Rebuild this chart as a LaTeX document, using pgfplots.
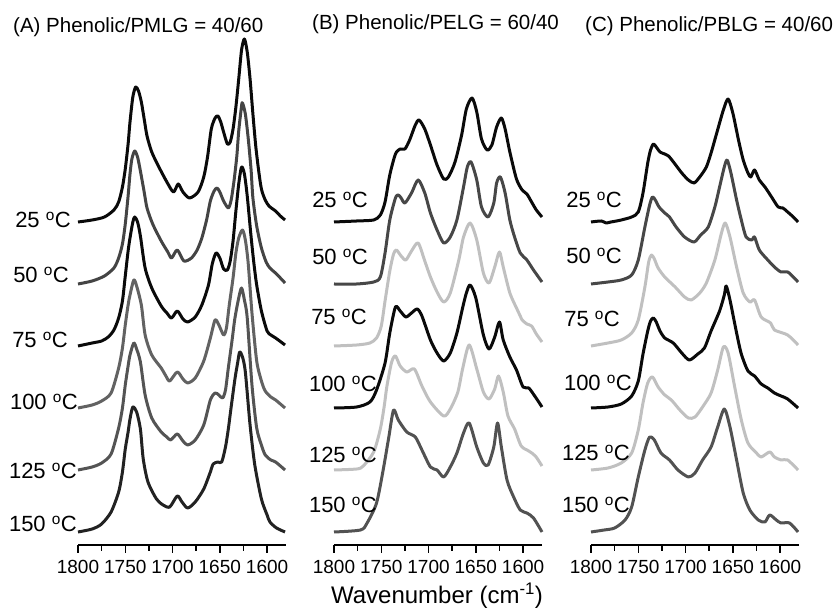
\documentclass[border=0pt]{standalone}
\usepackage{fontspec}
\setmainfont{Liberation Sans}
\usepackage{pgfplots}
\pgfplotsset{compat=1.18}
\definecolor{kA}{HTML}{0A0A0A}
\definecolor{dgA}{HTML}{444444}
\definecolor{mgA}{HTML}{626262}
\definecolor{g5A}{HTML}{545454}
\definecolor{nkA}{HTML}{222222}
\definecolor{lg}{HTML}{C0C0C0}
\definecolor{dg}{HTML}{474747}
\definecolor{dg5}{HTML}{525252}
\pgfplotsset{
 panel/.style={
  scale only axis, width=208pt, height=510pt, anchor=south west,
  xmin=1580, xmax=1800, x dir=reverse, ymin=0, ymax=510,
  axis x line=bottom, axis y line=none, axis line style={-, line width=1.5pt},
  xtick={1800,1750,...,1600}, minor xtick={1775,1725,1675,1625},
  tick align=outside, major tick length=8pt, minor tick length=6pt,
  every tick/.style={line width=1.5pt, black},
  xticklabel style={font=\fontsize{19}{19}\selectfont, yshift=-4pt},
  /pgf/number format/1000 sep={}, /pgf/number format/assume math mode=true,
  clip=false,
  every axis plot/.append style={line width=3pt, smooth, tension=0.45, line join=round, no marks},
 },
}
\newcommand{\lab}[1]{\fontsize{22}{22}\selectfont #1 \textsuperscript{o}C}
\begin{document}
\begin{tikzpicture}[x=1pt,y=1pt]
\path[use as bounding box] (0,0) rectangle (836,612);
% ---------------- Panel A ----------------
\begin{axis}[panel, at={(78pt,67pt)}]
\addplot[kA] table[x index=0, y expr=\thisrowno{1}+323] {
1800 0
1785 2
1772 5
1762 12
1757 20
1753 35
1750 53
1747 78
1745 100
1742 125
1739 135
1736 131
1733 120
1730 103
1727 86
1722 70
1715 56
1706 40
1699 30
1694 38
1689 30
1682 24
1673 30
1667 45
1663 65
1659 93
1655 104
1652 106
1649 100
1646 90
1642 78
1639 80
1636 93
1633 115
1630 143
1627 172
1624 183
1621 170
1618 143
1615 108
1612 76
1609 52
1606 33
1602 22
1598 16
1594 13
1591 11
1586 6
1581 2
};
\addplot[dgA] table[x index=0, y expr=\thisrowno{1}+261] {
1800 0
1785 3
1772 8
1762 16
1757 26
1753 40
1750 60
1747 88
1745 110
1743 125
1740 133
1737 127
1734 113
1730 92
1727 76
1721 60
1712 43
1705 32
1701 26
1695 34
1688 23
1680 26
1674 34
1669 46
1664 64
1660 83
1656 93
1653 96
1650 92
1646 83
1641 76
1638 84
1635 103
1632 128
1630 153
1627 178
1626 181
1623 170
1620 146
1617 115
1615 86
1611 58
1606 36
1601 22
1597 16
1590 10
1581 1
};
\addplot[kA] table[x index=0, y expr=\thisrowno{1}+199] {
1800 0
1785 3
1775 5
1768 9
1762 16
1757 28
1753 45
1750 70
1747 95
1745 108
1742 124
1740 129
1737 124
1734 110
1729 78
1722 58
1712 40
1706 33
1701 28
1695 35
1689 27
1684 24
1676 29
1669 41
1662 61
1658 82
1654 93
1650 88
1646 77
1642 76
1639 85
1636 105
1633 135
1630 162
1627 179
1624 172
1621 150
1617 110
1614 83
1611 61
1606 35
1600 15
1596 11
1591 8
1581 1
};
\addplot[mgA] table[x index=0, y expr=\thisrowno{1}+137] {
1800 0
1785 3
1775 7
1765 15
1757 40
1753 60
1750 83
1747 103
1745 113
1741 128
1738 122
1733 103
1729 73
1722 53
1712 40
1707 32
1703 27
1695 36
1689 29
1684 25
1676 30
1667 47
1660 70
1655 88
1651 83
1646 73
1643 80
1640 103
1636 130
1633 155
1630 170
1626 178
1623 168
1620 145
1616 95
1611 47
1606 27
1602 17
1596 11
1591 8
1581 0
};
\addplot[g5A] table[x index=0, y expr=\thisrowno{1}+75] {
1800 0
1785 3
1775 7
1765 16
1757 42
1753 62
1750 85
1747 104
1745 115
1741 127
1738 121
1734 108
1729 75
1722 52
1712 38
1706 33
1702 30
1695 36
1689 29
1684 25
1676 30
1667 45
1660 70
1655 77
1651 75
1647 72
1644 80
1641 102
1637 130
1634 152
1630 172
1627 182
1624 170
1621 152
1616 85
1611 42
1606 25
1602 15
1596 10
1591 8
1581 0
};
\addplot[nkA] table[x index=0, y expr=\thisrowno{1}+13] {
1800 0
1785 3
1775 8
1765 20
1757 40
1753 60
1750 83
1747 100
1745 113
1742 125
1738 120
1734 103
1731 73
1726 50
1717 33
1710 27
1703 25
1695 36
1690 30
1684 24
1676 30
1667 43
1660 60
1657 68
1652 70
1648 70
1644 85
1641 103
1638 125
1634 153
1631 170
1629 180
1626 175
1623 160
1618 107
1613 67
1606 33
1600 17
1597 10
1590 4
1581 0
};
\end{axis}
% ---------------- Panel B ----------------
\begin{axis}[panel, at={(334pt,67pt)}]
\addplot[kA] table[x index=0, y expr=\thisrowno{1}+323] {
1800 0
1776 1
1758 2
1751 7
1746 20
1741 47
1735 68
1730 73
1725 73
1720 82
1714 97
1710 102
1704 93
1698 77
1691 57
1684 43
1679 45
1672 60
1665 87
1660 113
1654 124
1649 110
1644 83
1638 72
1633 77
1628 95
1623 104
1619 93
1614 70
1607 43
1601 32
1596 28
1591 20
1586 12
1580 5
};
\addplot[dg] table[x index=0, y expr=\thisrowno{1}+261] {
1800 0
1776 0
1758 2
1751 7
1746 31
1741 64
1735 86
1732 89
1729 86
1725 81
1718 91
1711 104
1704 91
1698 71
1691 54
1684 41
1677 47
1670 64
1663 97
1659 117
1655 122
1649 104
1644 77
1637 67
1631 81
1628 101
1624 107
1619 91
1614 64
1609 47
1603 31
1596 24
1589 14
1580 2
};
\addplot[lg] table[x index=0, y expr=\thisrowno{1}+199] {
1800 0
1776 1
1762 3
1755 8
1750 20
1746 45
1741 75
1737 92
1734 96
1729 90
1724 86
1718 95
1711 103
1704 85
1698 69
1691 54
1684 44
1677 53
1668 86
1663 109
1656 123
1649 106
1642 73
1636 63
1630 79
1625 94
1621 79
1614 53
1607 38
1603 30
1601 26
1596 22
1591 20
1586 12
1580 4
};
\addplot[kA] table[x index=0, y expr=\thisrowno{1}+137] {
1800 0
1776 1
1762 6
1755 18
1746 45
1741 75
1735 101
1730 97
1724 91
1718 95
1712 99
1707 92
1698 68
1691 55
1684 47
1677 55
1670 75
1664 100
1660 115
1656 123
1650 110
1642 73
1636 59
1630 71
1625 86
1621 68
1614 51
1607 38
1600 21
1594 20
1587 11
1580 1
};
\addplot[lg] table[x index=0, y expr=\thisrowno{1}+75] {
1800 0
1776 1
1769 4
1758 18
1751 41
1747 63
1744 84
1739 108
1735 114
1730 104
1723 98
1715 101
1707 84
1698 68
1684 54
1677 61
1669 78
1664 101
1657 125
1649 101
1642 78
1636 71
1630 81
1626 94
1621 78
1616 54
1609 41
1602 24
1594 19
1587 14
1580 4
};
\addplot[dg5] table[x index=0, y expr=\thisrowno{1}+13] {
1800 0
1772 2
1765 9
1755 29
1748 62
1742 95
1737 122
1732 112
1723 100
1714 95
1707 82
1698 65
1691 62
1684 55
1677 65
1670 79
1663 99
1657 109
1649 85
1642 69
1637 67
1631 85
1627 109
1623 85
1617 52
1610 35
1603 22
1596 19
1589 14
1580 0
};
\end{axis}
% ---------------- Panel C ----------------
\begin{axis}[panel, at={(591pt,67pt)}]
\addplot[kA] table[x index=0, y expr=\thisrowno{1}+323] {
1800 0
1789 1
1784 -1
1779 0
1773 1
1768 2
1757 5
1750 10
1745 29
1740 59
1737 72
1734 78
1731 75
1727 70
1722 68
1718 66
1712 59
1704 49
1697 42
1691 39
1685 45
1678 55
1673 69
1667 89
1660 112
1655 123
1650 109
1644 82
1639 62
1634 49
1631 45
1627 52
1622 42
1616 35
1609 25
1602 15
1597 14
1592 10
1586 5
1581 0
};
\addplot[dg] table[x index=0, y expr=\thisrowno{1}+261] {
1800 0
1782 2
1768 4
1757 9
1750 24
1743 57
1738 79
1735 87
1732 84
1728 77
1722 71
1717 67
1710 57
1701 47
1691 42
1684 49
1676 57
1669 77
1664 97
1659 117
1656 124
1652 111
1646 84
1641 64
1636 47
1630 44
1627 47
1622 34
1613 24
1606 17
1599 12
1592 12
1586 7
1581 2
};
\addplot[lg] table[x index=0, y expr=\thisrowno{1}+199] {
1800 0
1782 3
1768 6
1757 13
1750 26
1743 59
1739 84
1736 91
1733 87
1729 78
1722 69
1711 59
1701 49
1694 46
1685 53
1678 63
1669 86
1662 113
1658 123
1653 109
1646 79
1639 53
1632 44
1627 46
1620 29
1610 23
1606 16
1592 11
1581 1
};
\addplot[kA] table[x index=0, y expr=\thisrowno{1}+137] {
1800 0
1782 1
1768 4
1757 12
1750 27
1745 54
1740 77
1737 87
1734 90
1731 86
1727 77
1722 70
1713 65
1704 55
1696 48
1687 54
1680 60
1673 77
1664 97
1659 113
1657 122
1653 108
1646 75
1641 54
1634 37
1627 32
1620 24
1613 20
1606 15
1599 12
1592 9
1581 0
};
\addplot[lg] table[x index=0, y expr=\thisrowno{1}+75] {
1800 0
1782 2
1768 7
1757 17
1750 40
1745 67
1740 87
1735 93
1729 83
1722 75
1715 70
1706 60
1697 52
1690 53
1682 63
1673 77
1666 100
1660 123
1655 117
1648 83
1641 50
1634 27
1625 17
1620 13
1611 18
1606 13
1599 10
1592 10
1581 0
};
\addplot[dg5] table[x index=0, y expr=\thisrowno{1}+13] {
1800 0
1786 2
1775 4
1764 12
1757 25
1750 55
1743 82
1738 95
1733 92
1726 79
1717 72
1708 62
1697 55
1690 59
1682 72
1673 85
1666 105
1659 123
1653 105
1646 72
1639 39
1632 22
1623 12
1616 10
1611 17
1604 12
1599 9
1590 9
1581 0
};
\end{axis}
% ---------------- Texts ----------------
\node[anchor=west, font=\fontsize{20.5}{20.5}\selectfont, inner sep=0pt] at (13,585) {(A) Phenolic/PMLG = 40/60};
\node[anchor=west, font=\fontsize{20.5}{20.5}\selectfont, inner sep=0pt] at (312,588) {(B) Phenolic/PELG = 60/40};
\node[anchor=west, font=\fontsize{20.5}{20.5}\selectfont, inner sep=0pt] at (585,586) {(C) Phenolic/PBLG = 40/60};
% Panel A labels
\node[anchor=east, inner sep=0pt] at (71,392) {\lab{25}};
\node[anchor=east, inner sep=0pt] at (69,337) {\lab{50}};
\node[anchor=east, inner sep=0pt] at (68,272) {\lab{75}};
\node[anchor=east, inner sep=0pt] at (78,210) {\lab{100}};
\node[anchor=east, inner sep=0pt] at (77,141) {\lab{125}};
\node[anchor=east, inner sep=0pt] at (77,88) {\lab{150}};
% Panel B labels
\node[anchor=east, inner sep=0pt] at (368,412) {\lab{25}};
\node[anchor=east, inner sep=0pt] at (368,355) {\lab{50}};
\node[anchor=east, inner sep=0pt] at (367,295) {\lab{75}};
\node[anchor=east, inner sep=0pt] at (377,228) {\lab{100}};
\node[anchor=east, inner sep=0pt] at (377,157) {\lab{125}};
\node[anchor=east, inner sep=0pt] at (377,107) {\lab{150}};
% Panel C labels
\node[anchor=east, inner sep=0pt] at (622,412) {\lab{25}};
\node[anchor=east, inner sep=0pt] at (622,356) {\lab{50}};
\node[anchor=east, inner sep=0pt] at (620,293) {\lab{75}};
\node[anchor=east, inner sep=0pt] at (632,229) {\lab{100}};
\node[anchor=east, inner sep=0pt] at (630,159) {\lab{125}};
\node[anchor=east, inner sep=0pt] at (630,107) {\lab{150}};
% x label
\node[font=\fontsize{24}{24}\selectfont, inner sep=0pt] at (437,16) {Wavenumber (cm\textsuperscript{-1})};
\end{tikzpicture}
\end{document}
